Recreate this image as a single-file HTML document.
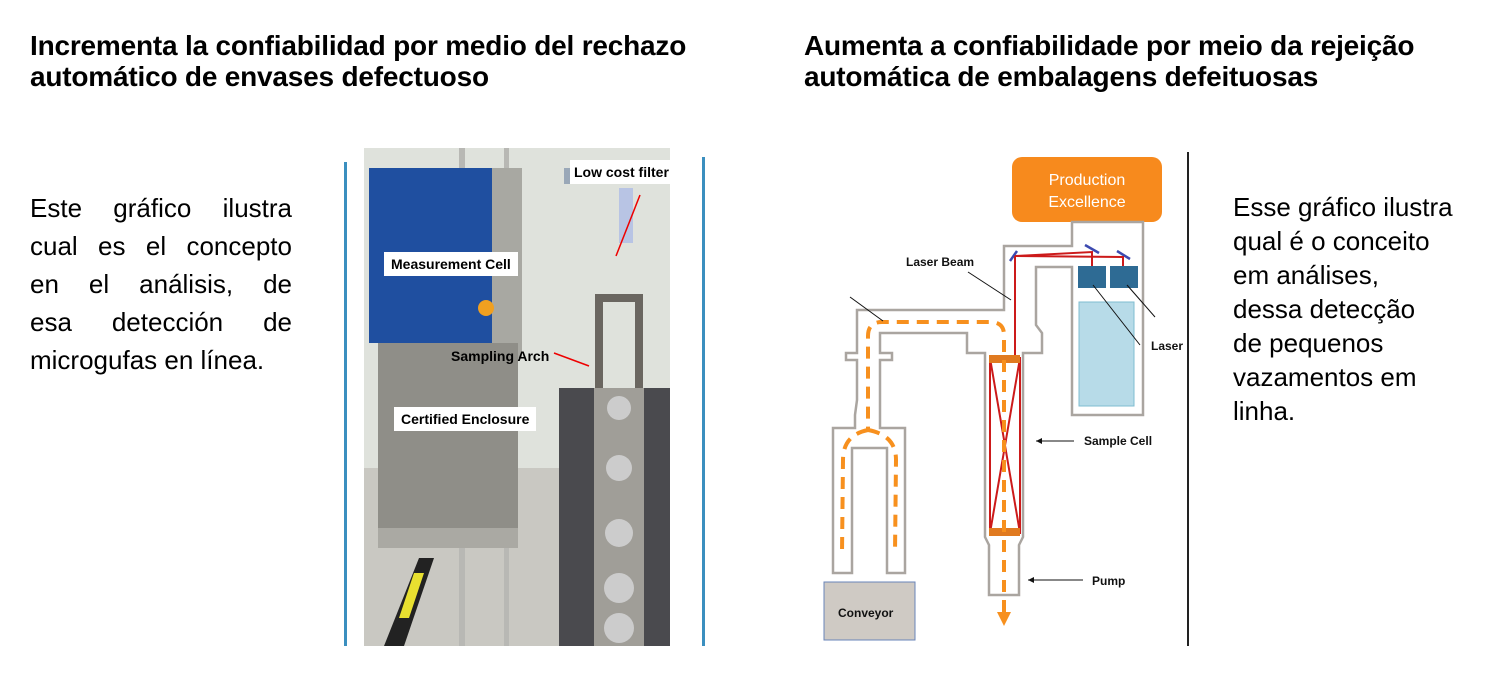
<!DOCTYPE html>
<html><head><meta charset="utf-8"><style>
body{margin:0;width:1500px;height:679px;background:#fff;position:relative;overflow:hidden;font-family:"Liberation Sans",sans-serif;color:#000}
.t{position:absolute;font-weight:bold;font-size:28px;line-height:31px;white-space:nowrap;letter-spacing:-0.2px}
.p{position:absolute;font-size:26px;line-height:38px}
.j{width:262px;text-align:justify;text-align-last:justify;height:38px;white-space:nowrap}
.lab{position:absolute;background:#fff;font-weight:bold;font-size:14px;padding:4px 7px;white-space:nowrap}
</style></head><body>
<div class="t" style="left:30px;top:30px">Incrementa la confiabilidad por medio del rechazo<br>automático de envases defectuoso</div>
<div class="t" style="left:804px;top:30px">Aumenta a confiabilidade por meio da rejeição<br>automática de embalagens defeituosas</div>
<div class="p" style="left:30px;top:189px">
<div class="j">Este gráfico ilustra</div>
<div class="j">cual es el concepto</div>
<div class="j">en el análisis, de</div>
<div class="j">esa detección de</div>
<div>microgufas en línea.</div>
</div>
<div class="p" style="left:1233px;top:190px;line-height:34px;font-size:26px">Esse gráfico ilustra<br>qual é o conceito<br>em análises,<br>dessa detecção<br>de pequenos<br>vazamentos em<br>linha.</div>

<!-- photo -->
<div style="position:absolute;left:344px;top:162px;width:3px;height:484px;background:#3b8fbf"></div>
<div style="position:absolute;left:702px;top:157px;width:3px;height:489px;background:#3b8fbf"></div>
<svg style="position:absolute;left:364px;top:148px" width="306" height="498">
<rect width="306" height="498" fill="#dfe2dc"/>
<rect x="0" y="320" width="306" height="178" fill="#c9c8c2"/>
<rect x="95" y="0" width="6" height="498" fill="#b8b8b4"/>
<rect x="140" y="0" width="5" height="498" fill="#b8b8b4"/>
<rect x="5" y="20" width="128" height="175" fill="#1f4fa0"/>
<rect x="128" y="20" width="30" height="190" fill="#a8a8a2"/>
<rect x="14" y="195" width="140" height="195" fill="#8f8e88"/>
<rect x="14" y="380" width="140" height="20" fill="#aaa9a3"/>
<polygon points="20,498 40,498 70,410 55,410" fill="#222"/>
<polygon points="35,470 45,470 60,425 50,425" fill="#e8e030"/>
<rect x="200" y="20" width="90" height="16" fill="#9aa8b8"/>
<rect x="255" y="40" width="14" height="55" fill="#b8c4e4"/>
<rect x="235" y="150" width="40" height="200" fill="none" stroke="#6a6660" stroke-width="8"/>
<rect x="195" y="240" width="111" height="258" fill="#4a4a4e"/>
<rect x="230" y="240" width="50" height="258" fill="#a09e98"/>
<circle cx="255" cy="260" r="12" fill="#ccc"/><circle cx="255" cy="320" r="13" fill="#ccc"/><circle cx="255" cy="385" r="14" fill="#ccc"/><circle cx="255" cy="440" r="15" fill="#ccc"/><circle cx="255" cy="480" r="15" fill="#ccc"/>
<circle cx="122" cy="160" r="8" fill="#f0a020"/>
<line x1="276" y1="47" x2="252" y2="108" stroke="#e00" stroke-width="1.5"/>
<line x1="190" y1="205" x2="225" y2="218" stroke="#e00" stroke-width="1.5"/>
</svg>
<div class="lab" style="left:570px;top:160px;padding:4px 4px">Low cost filter</div>
<div class="lab" style="left:384px;top:252px">Measurement Cell</div>
<div class="lab" style="left:444px;top:344px;background:none">Sampling Arch</div>
<div class="lab" style="left:394px;top:407px">Certified Enclosure</div>

<!-- diagram -->
<div style="position:absolute;left:1187px;top:152px;width:2px;height:494px;background:#222"></div>
<svg style="position:absolute;left:0;top:0" width="1500" height="679">
<rect x="1012" y="157" width="150" height="65" rx="10" fill="#f78a1d"/>
<text x="1087" y="185" fill="#fff" font-size="16" text-anchor="middle" font-family="Liberation Sans">Production</text>
<text x="1087" y="207" fill="#fff" font-size="16" text-anchor="middle" font-family="Liberation Sans">Excellence</text>
<polygon fill="none" stroke="#aaa5a0" stroke-width="2.5" points="1072,222 1072,246 1004,246 1004,310 857,310 857,353 846,353 846,360 857,360 857,400 855,415 855,428 833,428 833,573 852,573 852,448 887,448 887,573 905,573 905,428 880,428 880,415 880,400 880,360 892,360 892,353 880,353 880,333 967,333 967,353 985,353 985,537 989,545 989,595 1019,595 1019,545 1023,537 1023,353 1042,353 1042,333 1036,325 1036,267 1072,267 1072,415 1143,415 1143,222"/>
<rect x="1079" y="302" width="55" height="104" fill="#b7dbe8" stroke="#7fbcd0"/>
<rect x="1078" y="266" width="28" height="22" fill="#2e6b94"/>
<rect x="1110" y="266" width="28" height="22" fill="#2e6b94"/>
<g stroke="#3c4ab0" stroke-width="2.5"><line x1="1010" y1="261" x2="1017" y2="251"/><line x1="1085" y1="245" x2="1099" y2="253"/><line x1="1117" y1="251" x2="1130" y2="259"/></g>
<g stroke="#cc1a1a" stroke-width="2" fill="none">
<polyline points="1015,256 1092,252 1092,266"/><polyline points="1015,256 1123,257 1123,266"/>
<line x1="1015" y1="256" x2="1015" y2="358"/>
<rect x="990" y="358" width="30" height="175"/>
<line x1="990" y1="358" x2="1020" y2="533"/><line x1="1020" y1="358" x2="990" y2="533"/>
</g>
<rect x="989" y="355" width="31" height="8" fill="#e07a20"/>
<rect x="989" y="528" width="31" height="8" fill="#e07a20"/>
<g stroke="#f7901e" stroke-width="4" fill="none" stroke-dasharray="12,8">
<path d="M1004,612 L1004,335 Q1004,322 990,322 L882,322 Q868,322 868,336 L868,430"/>
<path d="M868,430 Q843,435 843,460 L842,553"/>
<path d="M868,430 Q896,435 896,460 L895,553"/>
</g>
<polygon points="997,612 1011,612 1004,626" fill="#f7901e"/>
<rect x="824" y="582" width="91" height="58" fill="#cfcac4" stroke="#6a84b8" stroke-width="1"/>
<g font-family="Liberation Sans" font-weight="bold" font-size="12" fill="#111">
<text x="838" y="617">Conveyor</text>
<text x="906" y="266">Laser Beam</text>
<text x="1151" y="350">Laser</text>
<text x="1084" y="445">Sample Cell</text>
<text x="1092" y="585">Pump</text>
</g>
<g stroke="#111" stroke-width="1" fill="none">
<line x1="968" y1="272" x2="1011" y2="300"/><line x1="850" y1="297" x2="883" y2="321"/>
<line x1="1140" y1="345" x2="1093" y2="285"/><line x1="1155" y1="317" x2="1127" y2="285"/>
<line x1="1074" y1="441" x2="1036" y2="441"/><line x1="1083" y1="580" x2="1028" y2="580"/>
</g>
<g fill="#111"><polygon points="1036,441 1042,438 1042,444"/><polygon points="1028,580 1034,577 1034,583"/></g>
</svg>
</body></html>
